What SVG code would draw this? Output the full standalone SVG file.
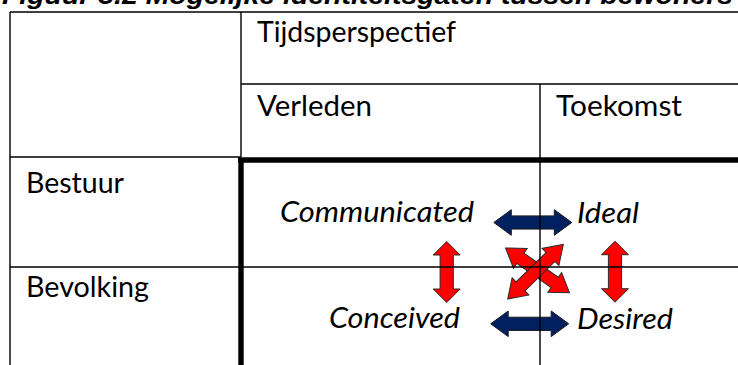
<svg xmlns="http://www.w3.org/2000/svg" width="738" height="365" viewBox="0 0 738 365">
<style>
.t{font-family:Lato,"Liberation Sans",sans-serif;font-size:28px;fill:#000}
.i{font-style:italic}
.ttl{font-family:"Liberation Sans",sans-serif;font-size:26px;font-weight:bold;font-style:italic;fill:#000}
.g{stroke:#000;stroke-width:1.4;fill:none}
.gt{stroke:#000;stroke-width:5.4;fill:none}
.red{fill:#ff0000;stroke:#2a2a2a;stroke-width:1}
.blue{fill:#002060;stroke:#1a1a1a;stroke-width:1}
</style>
<defs>
<path id="h" d="M-39 0L-21.5 -12.8L-21.5 -6.6L21.5 -6.6L21.5 -12.8L39 0L21.5 12.8L21.5 6.6L-21.5 6.6L-21.5 12.8Z"/>
<path id="d" d="M-39 0L-21 -12L-21 -6.3L21 -6.3L21 -12L39 0L21 12L21 6.3L-21 6.3L-21 12Z"/>
<path id="v" d="M0 -30.5L13.5 -17L6.6 -17L6.6 17L13.5 17L0 30.5L-13.5 17L-6.6 17L-6.6 -17L-13.5 -17Z"/>
</defs>
<rect width="738" height="365" fill="#fff"/>
<text class="ttl" x="2" y="4" textLength="731" lengthAdjust="spacingAndGlyphs">Figuur 3.2 Mogelijke identiteitsgaten tussen bewoners</text>
<g id="connectors">
<use href="#h" class="blue" x="532.8" y="222.5"/>
<use href="#h" class="blue" x="529.7" y="323.8"/>
<use href="#v" class="red" x="446.7" y="272"/>
<use href="#v" class="red" x="615" y="271.7"/>
<use href="#d" class="red" transform="translate(537.5 270.3) rotate(35)"/>
<use href="#d" class="red" transform="translate(535.5 271.7) rotate(-44.5)"/>
</g>
<g id="grid">
<path class="g" d="M10 12H738M10 12V365M241 12V157M241 84H738M10 157H241M540 84V365M10 267H738"/>
<path class="gt" d="M238 160H738M241 157.5V365"/>
</g>
<g id="header-tijd"><text class="t" x="257" y="41.5" textLength="199" lengthAdjust="spacingAndGlyphs">Tijdsperspectief</text></g>
<g id="header-verleden"><text class="t" x="257" y="115.5" textLength="115" lengthAdjust="spacingAndGlyphs">Verleden</text></g>
<g id="header-toekomst"><text class="t" x="556" y="115.5" textLength="126" lengthAdjust="spacingAndGlyphs">Toekomst</text></g>
<g id="row-bestuur"><text class="t" x="26" y="192.5" textLength="98" lengthAdjust="spacingAndGlyphs">Bestuur</text></g>
<g id="row-bevolking"><text class="t" x="26" y="296.5" textLength="123" lengthAdjust="spacingAndGlyphs">Bevolking</text></g>
<g id="communicated"><text class="t i" x="280" y="222" textLength="194" lengthAdjust="spacingAndGlyphs">Communicated</text></g>
<g id="ideal"><text class="t i" x="577" y="222.5" textLength="62" lengthAdjust="spacingAndGlyphs">Ideal</text></g>
<g id="conceived"><text class="t i" x="329" y="328.3" textLength="131" lengthAdjust="spacingAndGlyphs">Conceived</text></g>
<g id="desired"><text class="t i" x="577" y="328.8" textLength="96" lengthAdjust="spacingAndGlyphs">Desired</text></g>
</svg>
